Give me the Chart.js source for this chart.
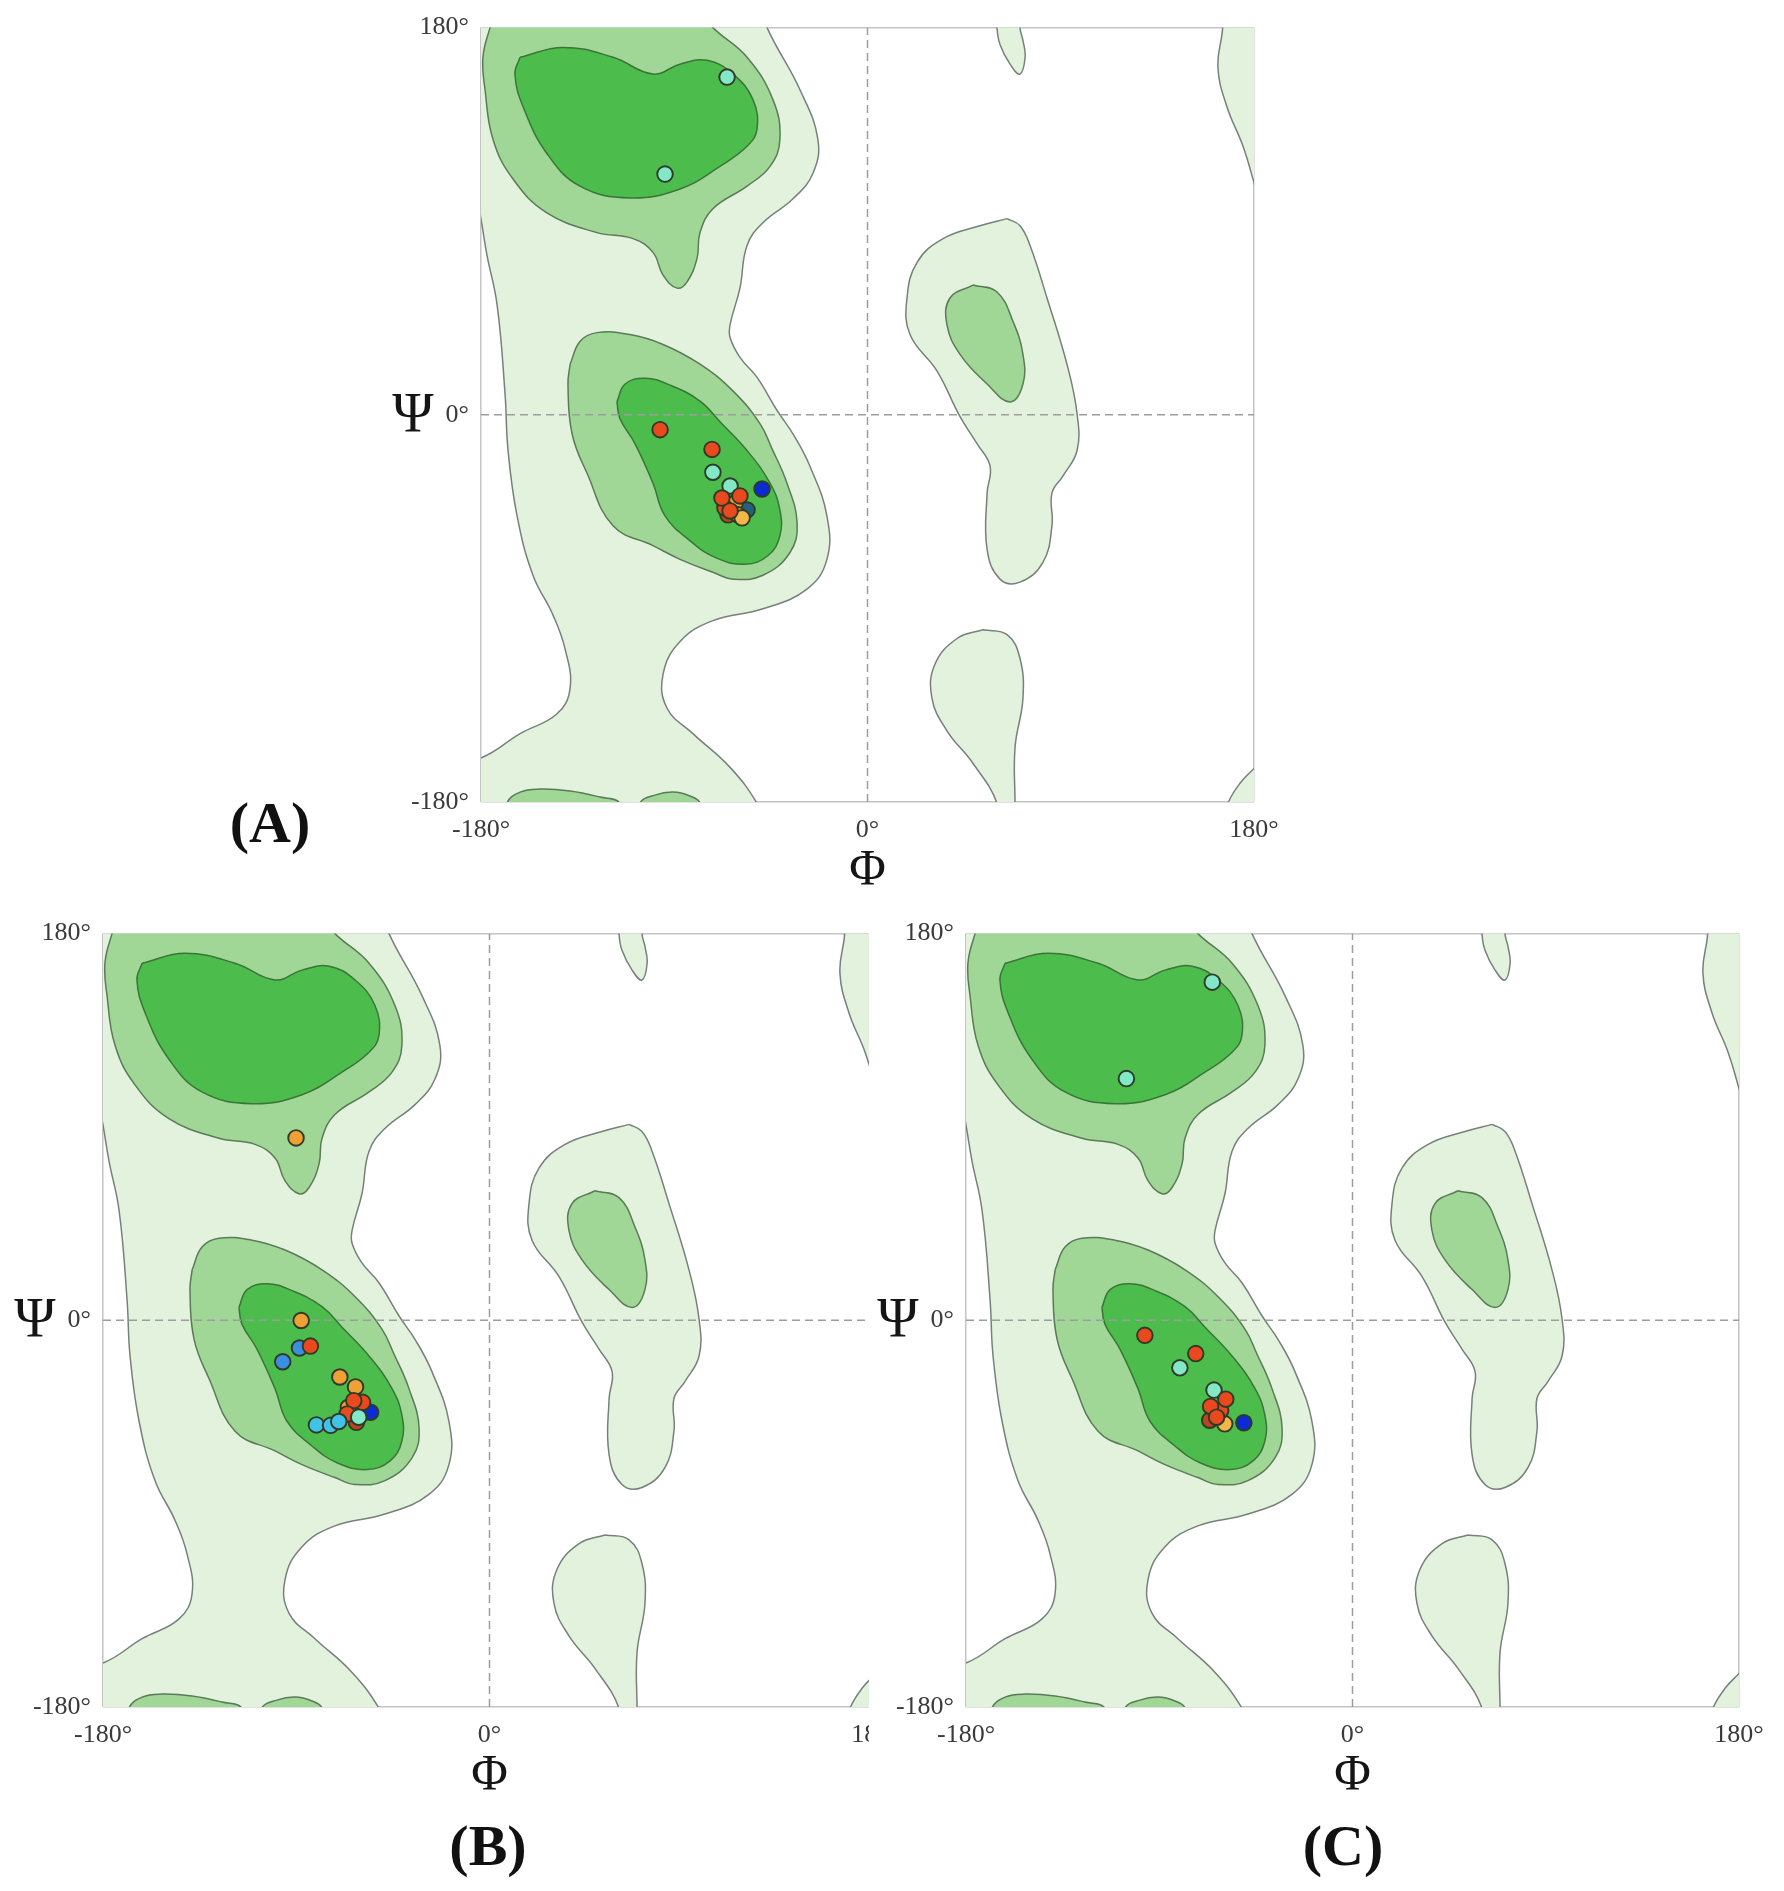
<!DOCTYPE html>
<html>
<head>
<meta charset="utf-8">
<script src="https://cdn.jsdelivr.net/npm/chart.js@4.4.1/dist/chart.umd.min.js"></script>
<style>
html,body{margin:0;padding:0;background:#fff;width:1784px;height:1891px;overflow:hidden;position:relative;font-family:"Liberation Serif","Times New Roman",Tinos,Times,serif}
.panel{position:absolute;overflow:hidden}
.panel canvas{position:absolute;left:0;top:0}
.lab{position:absolute;font-family:"Liberation Serif","Times New Roman",Tinos,Times,serif;font-weight:bold;font-size:58px;line-height:1;transform:translate(-50%,-50%);color:#111;white-space:nowrap}
</style>
</head>
<body>
<div class="panel" style="left:300px;top:0px;width:1000px;height:910px"><canvas id="cA" width="1000" height="910"></canvas></div>
<div class="panel" style="left:0px;top:906px;width:869px;height:910px"><canvas id="cB" width="922" height="910"></canvas></div>
<div class="panel" style="left:863px;top:906px;width:921px;height:910px"><canvas id="cC" width="922" height="910"></canvas></div>
<div class="lab" style="left:270px;top:823px">(A)</div>
<div class="lab" style="left:488px;top:1846px">(B)</div>
<div class="lab" style="left:1343px;top:1846px">(C)</div>
<script>
// ---------- axis ticks ----------
const TICK_VALUES = [-180, 0, 180];
const DEG = '°';

// ---------- Ramachandran contours [phi, psi] (degrees) ----------
const lightMain = [
  [-52,196],[-46.8,180],[-31.4,151.0],[-23.1,128.0],[-25.4,112.3],[-34.7,100.4],[-48.7,89.3],
  [-56.1,78.7],[-59.4,58.9],[-64.0,41.9],[-64.0,35.9],[-59.4,26.7],[-51.5,17.5],[-42.1,2.0],
  [-34.0,-10.0],[-26.8,-23.9],[-18.9,-47.0],[-18.9,-67.2],[-28.2,-81.0],[-48.7,-90.2],
  [-72.0,-95.7],[-87.3,-105.4],[-95.2,-120.6],[-93.4,-136.3],[-81.3,-148.2],[-64.0,-163.9],
  [-51.5,-180.5],[-45,-195],[-200,-200],[-200,-164],[-179.5,-159.3],[-161.8,-148.2],
  [-144.6,-139.0],[-138.5,-127.1],[-140.9,-108.6],[-146.5,-93.0],[-155.8,-74.6],[-163.2,-47.0],
  [-167.4,-16.6],[-168.8,9.7],[-172.5,51.1],[-177.2,74.1],[-179.5,87.9],[-181.5,100],[-186,130],
  [-200,200],[-52,196]
];
const lightLeftAlpha = [
  [65.0,91.2],[71.0,87.9],[75.7,78.7],[83.6,54.3],[92.9,23.5],[97.6,0.5],[97.6,-16.6],[91.0,-28.5],
  [85.9,-36.4],[85.9,-51.6],[81.7,-68.6],[71.0,-77.8],[61.7,-76.4],[55.7,-62.6],[55.7,-36.4],
  [57.1,-23.9],[51.0,-13.4],[43.1,-0.9],[32.4,20.3],[19.8,37.3],[18.4,54.3],[23.1,70.9],
  [35.2,81.9],[52.4,87.9],[65.0,91.2]
];
const lightDrop = [
  [53.8,-99.9],[65.0,-102.2],[71.0,-113.2],[72.4,-131.7],[68.7,-154.7],[68.7,-180.5],[68.7,-192],
  [60.3,-192],[60.3,-180.5],[49.1,-162.0],[37.0,-146.9],[30.0,-131.7],[31.4,-116.0],[41.7,-104.0],[53.8,-99.9]
];
const lightTopBlob = [
  [60.3,192],[60.3,180],[61.7,172.2],[66.4,163.0],[71.0,158.4],[73.4,166.2],[72.4,174.0],[71.0,180],[71,192],[60.3,192]
];
const lightRightTop = [
  [165,192],[165.4,180],[163.2,161.6],[167.4,143.2],[174.9,124.8],[180.5,106.3],[184,95],[195,100],[195,192],[165,192]
];
const lightRightBottom = [
  [165,-192],[167.9,-180.5],[173.5,-171.3],[180.5,-163.9],[186,-158],[195,-192],[165,-192]
];
const mediumBeta = [
  [-172,192],[-175.8,180],[-179.1,166.2],[-178.1,151.0],[-174.4,128.0],[-165.1,109.6],[-149.3,93.9],
  [-126.0,84.7],[-109.2,81.9],[-99.9,75.5],[-95.2,64.9],[-88.7,58.9],[-84.1,61.7],[-79.4,72.7],
  [-78.0,84.7],[-72.0,95.8],[-56.1,106.3],[-45.4,115.5],[-40.8,128.0],[-44.0,146.4],[-56.1,166.2],
  [-72.0,180],[-80,190],[-130,196],[-172,192]
];
const mediumAlpha = [
  [-138.5,23.5],[-133.9,34.1],[-126.0,38.2],[-110.6,37.3],[-95.2,32.7],[-78.0,23.5],[-62.6,11.0],
  [-50.1,-4.1],[-44.5,-15.7],[-37.5,-31.8],[-32.8,-50.2],[-36.1,-64.0],[-48.7,-74.6],[-62.6,-76.4],
  [-72.0,-73.2],[-87.3,-67.2],[-99.9,-60.8],[-118.5,-51.6],[-130.6,-27.2],[-137.6,-8.8],[-139.5,14.3],[-138.5,23.5]
];
const mediumLeftAlpha = [
  [49.1,60.3],[60.3,57.1],[67.8,43.3],[72.4,28.1],[72.4,14.3],[66.4,6.0],[55.7,14.3],[43.1,28.1],
  [37.0,41.9],[38.4,54.3],[49.1,60.3]
];
const mediumBottom1 = [
  [-168,-190],[-167.9,-180.5],[-161.8,-175.4],[-152.5,-174.0],[-138.5,-174.9],[-124.6,-177.7],[-115.3,-180.5],[-115,-190],[-168,-190]
];
const mediumBottom2 = [
  [-106,-190],[-106.0,-180.5],[-99.0,-176.8],[-90.6,-175.4],[-82.7,-177.2],[-78.0,-180.5],[-78,-190],[-106,-190]
];
const darkBeta = [
  [-161.8,166.2],[-141.8,170.8],[-118.5,166.2],[-99.9,158.4],[-87.3,163.0],[-74.7,164.8],[-62.6,158.4],
  [-53.3,146.4],[-51.5,132.6],[-56.1,124.8],[-68.7,115.5],[-87.3,105.0],[-110.6,100.8],[-133.9,106.3],
  [-149.3,121.5],[-160.4,143.2],[-164.2,158.4],[-161.8,166.2]
];
const darkAlpha = [
  [-116.7,6.0],[-112.9,14.3],[-103.6,17.0],[-92.0,13.8],[-78.0,6.4],[-68.7,-3.2],[-56.1,-16.6],
  [-45.4,-31.8],[-40.8,-44.2],[-40.8,-56.2],[-46.3,-65.4],[-57.1,-69.5],[-71.0,-66.3],[-82.7,-58.5],
  [-94.3,-47.0],[-99.9,-31.8],[-108.3,-13.4],[-115.3,-1.8],[-116.7,6.0]
];
const zeroPhiLine = [[0,-180],[0,180]];
const zeroPsiLine = [[-180,0],[180,0]];

// ---------- residues per panel ----------
const phiA  = [-65.4, -94.3, -96.6, -72.4, -72.0, -49.1, -56.1, -61.7, -65.0, -60.3, -58.4, -66.4, -64.0, -67.8, -59.4, -64.0];
const psiA  = [157.0, 111.9, -6.9, -16.1, -26.7, -34.5, -44.2, -41.0, -46.5, -46.5, -47.9, -43.3, -33.1, -38.7, -37.7, -44.7];
const typeA = ['mint','mint','red','red','mint','blue','teal','orange','brown','orange','yellow','red','mint','red','red','red'];

const phiB  = [-90.1, -87.7, -88.5, -83.4, -96.3, -69.7, -62.4, -62.0, -55.4, -65.7, -59.1, -63.2, -66.3, -80.6, -74.0, -70.2, -60.9];
const psiB  = [84.9, -0.1, -12.9, -12.0, -19.3, -26.4, -31.0, -47.5, -42.8, -40.5, -38.2, -37.4, -43.6, -48.7, -48.9, -47.1, -45.1];
const typeB = ['orange','orange','sky','red','sky','orange','orange','brown','blue','orange','red','red','red','cyan','cyan','cyan','mint'];

const phiC  = [-65.3, -105.3, -96.7, -73.0, -80.4, -66.5, -59.5, -61.4, -64.5, -59.0, -66.1, -63.3, -50.6];
const psiC  = [157.4, 112.5, -7.0, -15.5, -22.1, -46.5, -48.2, -42.0, -32.5, -36.7, -40.1, -45.1, -47.7];
const typeC = ['mint','mint','red','red','mint','brown','yellow','red','mint','red','red','red','blue'];

// ---------- styles ----------
const LEVEL = {
  light:  {fill:'#e3f2dd', line:'#76817a', order:30},
  medium: {fill:'#a0d797', line:'#5a7a58', order:20},
  dark:   {fill:'#4cbd4c', line:'#3a7538', order:10}
};
const RES_COLOR = {red:'#e8491d', mint:'#82e8c6', blue:'#0c2bd4', orange:'#efa136', sky:'#3b8fe0',
  cyan:'#42c3e6', teal:'#22607c', brown:'#b9471d', yellow:'#f2b74a'};
const SERIF = '"Liberation Serif", "Times New Roman", Tinos, Times, serif';

Chart.defaults.font.family = SERIF;

function contour(data, level) {
  const s = LEVEL[level];
  return {data, fill:'shape', backgroundColor:s.fill, borderColor:s.line, borderWidth:1.5,
    tension:0.42, pointRadius:0, pointHoverRadius:0, order:s.order, clip:0};
}
function dashed(data) {
  return {data, fill:false, borderColor:'#9d9d9d', borderWidth:1.5, borderDash:[8,5],
    tension:0, pointRadius:0, pointHoverRadius:0, order:5, clip:0};
}

const psiLabel = {
  id:'psiLabel',
  afterDraw(chart) {
    const {ctx, chartArea, scales} = chart;
    ctx.save();
    ctx.font = '56px ' + SERIF;
    ctx.fillStyle = '#151515';
    ctx.textAlign = 'center';
    ctx.textBaseline = 'middle';
    ctx.fillText('Ψ', chartArea.left - 68, scales.y.getPixelForValue(0) + 2);
    ctx.restore();
  }
};

function makePanel(id, phi, psi, types, geom) {
  const datasets = [
    contour(lightMain,'light'), contour(lightLeftAlpha,'light'), contour(lightDrop,'light'),
    contour(lightTopBlob,'light'), contour(lightRightTop,'light'), contour(lightRightBottom,'light'),
    contour(mediumBeta,'medium'), contour(mediumAlpha,'medium'), contour(mediumLeftAlpha,'medium'),
    contour(mediumBottom1,'medium'), contour(mediumBottom2,'medium'),
    contour(darkBeta,'dark'), contour(darkAlpha,'dark'),
    dashed(zeroPhiLine), dashed(zeroPsiLine),
    {data: phi.map((p,i)=>({x:p, y:psi[i]})), showLine:false, pointRadius:7.8, pointHoverRadius:7.8,
     pointBorderWidth:1.9, pointBackgroundColor: types.map(t=>RES_COLOR[t]), pointBorderColor:'#2f3a28',
     order:0, clip:false}
  ];
  const gridColor = c => (c.tick && Math.abs(c.tick.value) === 180) ? '#c4c4c4' : 'rgba(0,0,0,0)';
  new Chart(document.getElementById(id), {
    type:'line',
    data:{datasets},
    options:{
      responsive:false, animation:false, devicePixelRatio:1, events:[],
      layout:{padding:geom.pad},
      elements:{line:{capBezierPoints:false}},
      plugins:{legend:{display:false}, tooltip:{enabled:false}},
      scales:{
        x:{type:'linear', min:-180, max:180,
          afterBuildTicks: s => { s.ticks = TICK_VALUES.map(v=>({value:v})); },
          ticks:{callback:v=>v+DEG, font:{size:26}, color:'#3a3a3a', padding:13, maxRotation:0, autoSkip:false},
          grid:{drawTicks:false, color:gridColor, lineWidth:1.5},
          border:{display:false},
          title:{display:true, text:'Φ', font:{size:50, lineHeight:1}, color:'#151515', padding:{top:0,bottom:6}},
          afterFit: s => { s.height = 100; },
          z:1},
        y:{type:'linear', min:-180, max:180,
          afterBuildTicks: s => { s.ticks = TICK_VALUES.map(v=>({value:v})); },
          ticks:{callback:v=>v+DEG, font:{size:26}, color:'#3a3a3a', padding:12, autoSkip:false},
          grid:{drawTicks:false, color:gridColor, lineWidth:1.5},
          border:{display:false},
          afterFit: s => { s.width = geom.yw; },
          z:1}
      }
    },
    plugins:[psiLabel]
  });
}

makePanel('cA', phiA, psiA, typeA, {yw:110, pad:{left:71, top:20, right:46, bottom:8}});
makePanel('cB', phiB, psiB, typeB, {yw:100, pad:{left:3, top:20, right:46, bottom:9}});
makePanel('cC', phiC, psiC, typeC, {yw:100, pad:{left:3, top:20, right:46, bottom:9}});
</script>
</body>
</html>
